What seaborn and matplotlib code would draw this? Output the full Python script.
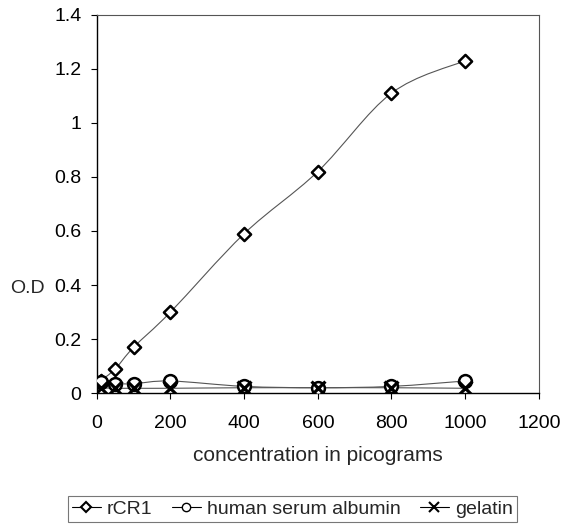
import numpy as np
import pandas as pd
import matplotlib
matplotlib.use("Agg")
import matplotlib.pyplot as plt
from matplotlib.path import Path
from matplotlib.patches import PathPatch
from matplotlib.lines import Line2D
import seaborn as sns

conc = [10, 50, 100, 200, 400, 600, 800, 1000]
rcr1 = [0.045, 0.09, 0.17, 0.30, 0.59, 0.82, 1.11, 1.23]
hsa = [0.04, 0.035, 0.035, 0.045, 0.025, 0.02, 0.025, 0.045]
gelatin = [0.02, 0.018, 0.018, 0.018, 0.02, 0.02, 0.02, 0.018]
names = ['rCR1', 'human serum albumin', 'gelatin']

df = pd.DataFrame({'conc': conc, 'rCR1': rcr1,
                   'human serum albumin': hsa, 'gelatin': gelatin})
long = df.melt(id_vars='conc', var_name='sample', value_name='od')

sns.set_style('ticks')
plt.rcParams['font.family'] = ['Liberation Sans', 'DejaVu Sans']

fig = plt.figure(figsize=(5.63, 5.27), dpi=100)
ax = fig.add_axes([0.172, 0.254, 0.785, 0.718])

markers = {'rCR1': 'D', 'human serum albumin': 'o', 'gelatin': 'x'}
sizes = {'rCR1': 45, 'human serum albumin': 85, 'gelatin': 100}


def smooth_path(x, y, t=0.5):
    # Excel-style smoothed line: catmull-rom -> cubic bezier
    x = np.asarray(x, float)
    y = np.asarray(y, float)
    verts = [(x[0], y[0])]
    codes = [Path.MOVETO]
    n = len(x)
    for i in range(n - 1):
        p0 = (x[max(i - 1, 0)], y[max(i - 1, 0)])
        p1 = (x[i], y[i])
        p2 = (x[i + 1], y[i + 1])
        p3 = (x[min(i + 2, n - 1)], y[min(i + 2, n - 1)])
        c1 = (p1[0] + (p2[0] - p0[0]) * t / 3, p1[1] + (p2[1] - p0[1]) * t / 3)
        c2 = (p2[0] - (p3[0] - p1[0]) * t / 3, p2[1] - (p3[1] - p1[1]) * t / 3)
        verts += [c1, c2, p2]
        codes += [Path.CURVE4] * 3
    return Path(verts, codes)


for name in names:
    sub = long[long['sample'] == name]
    ax.add_patch(PathPatch(smooth_path(sub['conc'], sub['od']), facecolor='none',
                           edgecolor='#555555', lw=0.8, zorder=2))
    if markers[name] == 'x':
        sns.scatterplot(data=sub, x='conc', y='od', marker='x', s=sizes[name],
                        color='black', linewidth=2.3, ax=ax, zorder=3, legend=False)
    else:
        sns.scatterplot(data=sub, x='conc', y='od', marker=markers[name], s=sizes[name],
                        facecolor='white', edgecolor='black', linewidth=1.8,
                        ax=ax, zorder=3, legend=False)

ax.set_xlim(0, 1200)
ax.set_ylim(0, 1.4)
ax.set_xticks(range(0, 1201, 200))
ax.set_yticks([0, 0.2, 0.4, 0.6, 0.8, 1, 1.2, 1.4])
ax.set_yticklabels(['0', '0.2', '0.4', '0.6', '0.8', '1', '1.2', '1.4'])
ax.tick_params(labelsize=14, length=4, width=0.8, colors='black')
ax.tick_params(axis='x', pad=12)
ax.tick_params(axis='y', pad=7)
for side in ['left', 'bottom']:
    ax.spines[side].set_color('black')
    ax.spines[side].set_linewidth(1)
for side in ['top', 'right']:
    ax.spines[side].set_color('#555555')
    ax.spines[side].set_linewidth(0.8)

ax.set_xlabel('concentration in picograms', fontsize=15, labelpad=10)
ax.set_ylabel('O.D', fontsize=14, rotation=0)
ax.yaxis.set_label_coords(-0.156, 0.255)

handles = [
    Line2D([], [], color='black', lw=0.8, marker='D', markersize=5,
           markerfacecolor='white', markeredgewidth=1.5),
    Line2D([], [], color='black', lw=0.8, marker='o', markersize=6,
           markerfacecolor='white', markeredgewidth=1),
    Line2D([], [], color='black', lw=0.8, marker='x', markersize=7,
           markeredgewidth=1.5),
]
leg = fig.legend(handles, names, loc='center', bbox_to_anchor=(0.519, 0.034),
                 ncol=3, fontsize=14, frameon=True, fancybox=False,
                 edgecolor='#555555', handlelength=1.5, handletextpad=0.3,
                 columnspacing=1.0, borderpad=0.2)
leg.get_frame().set_linewidth(0.8)

fig.savefig('out.png', dpi=100)
